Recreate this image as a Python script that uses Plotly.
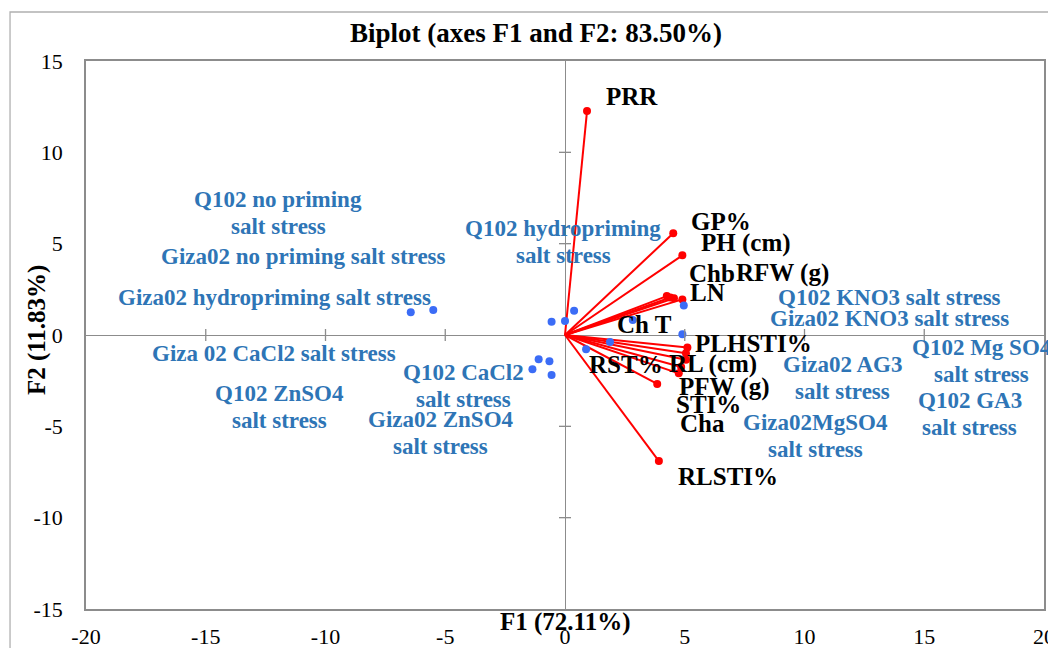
import plotly.graph_objects as go

# ---------------- data ----------------
obs_names = [
    "Q102 no priming salt stress", "Giza02 no priming salt stress",
    "Giza02 hydropriming salt stress", "Q102 hydropriming salt stress",
    "Giza 02 CaCl2 salt stress", "Q102 ZnSO4 salt stress",
    "Q102 CaCl2 salt stress", "Giza02 ZnSO4 salt stress",
    "Q102 KNO3 salt stress", "Giza02 KNO3 salt stress",
    "Giza02 AG3 salt stress", "Q102 Mg SO4 salt stress",
    "Q102 GA3 salt stress", "Giza02MgSO4 salt stress",
]
obs_f1 = [-5.50, -6.44, -0.56, 0.38, -1.36, -0.56, -1.10, -0.65, 4.96, 2.83, 1.88, 4.90, 0.88, 0.00]
obs_f2 = [1.37, 1.24, 0.73, 1.33, -1.88, -2.19, -1.33, -1.44, 1.61, 0.82, -0.38, 0.04, -0.78, 0.77]

# label text lines and label anchor (data units) for observations
obs_label_lines = [
    ["Q102 no priming", "salt stress"], ["Giza02 no priming salt stress"],
    ["Giza02 hydropriming salt stress"], ["Q102 hydropriming", "salt stress"],
    ["Giza 02 CaCl2 salt stress"], ["Q102 ZnSO4", "salt stress"],
    ["Q102 CaCl2", "salt stress"], ["Giza02 ZnSO4", "salt stress"],
    ["Q102 KNO3 salt stress"], ["Giza02 KNO3 salt stress"],
    ["Giza02 AG3", "salt stress"], ["Q102 Mg SO4", "salt stress"],
    ["Q102 GA3", "salt stress"], ["Giza02MgSO4", "salt stress"],
]
obs_label_x = [-11.98, -10.90, -12.15, -0.08, -12.15, -11.94, -4.22, -5.18, 13.53, 13.53, 11.57, 17.41, 16.91, 10.44]
obs_label_y = [6.68, 4.32, 2.08, 5.09, -0.99, -3.94, -2.79, -5.36, 2.08, 0.88, -2.35, -1.42, -4.32, -5.53]

var_names = ["PRR", "GP%", "PH (cm)", "Chb", "RFW (g)", "LN", "Ch T",
             "PLHSTI%", "RST%", "RL (cm)", "PFW (g)", "STI%", "Cha", "RLSTI%"]
var_f1 = [0.92, 4.52, 4.90, 4.25, 4.55, 4.90, 4.40, 5.11, 5.05, 5.05, 4.85, 4.75, 3.85, 3.92]
var_f2 = [12.26, 5.57, 4.36, 2.13, 2.01, 1.95, 2.05, -0.68, -1.00, -1.35, -1.75, -2.10, -2.68, -6.90]
var_label_x = [2.80, 6.51, 7.56, 6.14, 9.10, 5.93, 3.30, 7.89, 2.55, 6.18, 6.68, 6.01, 5.76, 6.81]
var_label_y = [13.03, 6.24, 5.04, 3.39, 3.39, 2.30, 0.55, -0.49, -1.59, -1.59, -2.85, -3.78, -4.87, -7.77]

x_ticks = [-20, -15, -10, -5, 0, 5, 10, 15, 20]
y_ticks = [-15, -10, -5, 0, 5, 10, 15]

title_text = "Biplot (axes F1 and F2: 83.50%)"
x_title = "F1 (72.11%)"
y_title = "F2 (11.83%)"

# ---------------- styles ----------------
FONT = "Liberation Serif, Times New Roman, serif"
BLUE_TXT = "#2E75B6"
BLUE_DOT = "#3B6CF6"
RED = "#FF0000"
GRAY = "#8C8C8C"

fig = go.Figure()

# variable vectors
lx, ly = [], []
for vx, vy in zip(var_f1, var_f2):
    lx += [0, vx, None]
    ly += [0, vy, None]
fig.add_trace(go.Scatter(x=lx, y=ly, mode="lines", line=dict(color=RED, width=2),
                         hoverinfo="skip", showlegend=False))
fig.add_trace(go.Scatter(x=var_f1, y=var_f2, mode="markers", text=var_names,
                         marker=dict(color=RED, size=8), showlegend=False))
# observations
fig.add_trace(go.Scatter(x=obs_f1, y=obs_f2, mode="markers", text=obs_names,
                         marker=dict(color=BLUE_DOT, size=8), showlegend=False))

annotations = []
LINE_H = 27
for lines, ax, ay in zip(obs_label_lines, obs_label_x, obs_label_y):
    n = len(lines)
    for i, t in enumerate(lines):
        annotations.append(dict(x=ax, y=ay, xref="x", yref="y", text="<b>%s</b>" % t,
                                showarrow=False, xanchor="center", yanchor="middle",
                                yshift=(n - 1) * LINE_H / 2 - i * LINE_H,
                                font=dict(family=FONT, size=23, color=BLUE_TXT)))
for t, ax, ay in zip(var_names, var_label_x, var_label_y):
    annotations.append(dict(x=ax, y=ay, xref="x", yref="y", text="<b>%s</b>" % t,
                            showarrow=False, xanchor="center", yanchor="middle",
                            font=dict(family=FONT, size=25, color="black")))

# titles
annotations.append(dict(x=0.4697, y=1.051, xref="paper", yref="paper", text="<b>%s</b>" % title_text,
                        showarrow=False, xanchor="center", yanchor="middle",
                        font=dict(family=FONT, size=27, color="black")))
annotations.append(dict(x=0.5, y=-0.024, xref="paper", yref="paper", text="<b>%s</b>" % x_title,
                        showarrow=False, xanchor="center", yanchor="middle",
                        font=dict(family=FONT, size=25, color="black")))
annotations.append(dict(x=-0.0511, y=0.509, xref="paper", yref="paper", text="<b>%s</b>" % y_title,
                        showarrow=False, xanchor="center", yanchor="middle", textangle=-90,
                        font=dict(family=FONT, size=25, color="black")))

shapes = []
# cross ticks on the zero lines
for xt in x_ticks[1:-1]:
    if xt == 0:
        continue
    shapes.append(dict(type="line", xref="x", yref="y", x0=xt, x1=xt,
                       ysizemode="pixel", yanchor=0, y0=-6, y1=6,
                       line=dict(color=GRAY, width=1.3)))
for yt in y_ticks[1:-1]:
    if yt == 0:
        continue
    shapes.append(dict(type="line", xref="x", yref="y", y0=yt, y1=yt,
                       xsizemode="pixel", xanchor=0, x0=-6, x1=6,
                       line=dict(color=GRAY, width=1.3)))
# outer chart frame
shapes.append(dict(type="rect", xref="paper", yref="paper", x0=-0.0793, x1=1.03,
                   y0=-0.1, y1=1.0894, line=dict(color="#B0B0B0", width=1.3),
                   fillcolor="rgba(0,0,0,0)", layer="below"))

axis_common = dict(showgrid=False, zeroline=True, zerolinecolor=GRAY, zerolinewidth=1.3,
                   showline=True, mirror=True, linecolor=GRAY, linewidth=1.5,
                   ticks="", automargin=False,
                   tickfont=dict(family=FONT, size=22, color="black"))

# page body adds an 8px offset, so the figure is 8px smaller and margins shifted
fig.update_layout(
    width=1048, height=640,
    margin=dict(l=78, r=12, t=53, b=39, autoexpand=False),
    paper_bgcolor="white", plot_bgcolor="white",
    xaxis=dict(range=[-20, 20], tickvals=x_ticks, ticktext=[str(v) for v in x_ticks],
               ticklabelstandoff=7, **axis_common),
    yaxis=dict(range=[-15, 15], tickvals=y_ticks, ticktext=[str(v) for v in y_ticks],
               ticklabelstandoff=17, **axis_common),
    annotations=annotations, shapes=shapes, showlegend=False,
)

fig.write_html("out.html")
